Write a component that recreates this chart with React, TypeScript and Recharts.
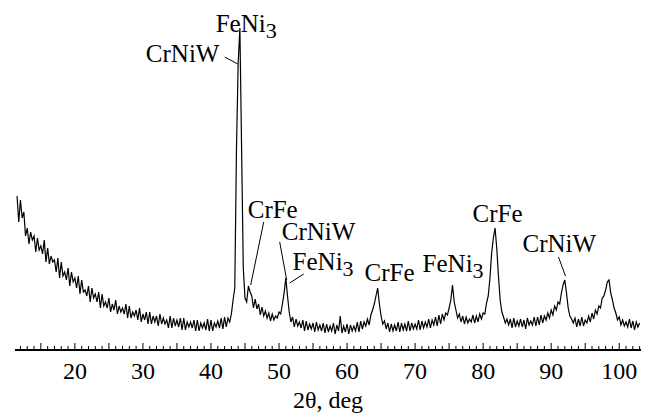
import React from 'react';
import { LineChart, Line, XAxis, YAxis, ReferenceDot, ReferenceLine } from 'recharts';

const FONT = "'Liberation Serif', 'Times New Roman', Times, 'Nimbus Roman', 'FreeSerif', 'Noto Serif', 'DejaVu Serif', serif";

// scan start and step, deg
const START = 11.5;
const STEP = 0.25;

// intensity, arb. units, every 0.25 deg
const intensity = [
  152, 126,
  148, 130, 136, 112, // 12
  120, 104, 116, 108, // 13
  112, 96, 110, 98, // 14
  102, 94, 108, 86, // 15
  100, 84, 92, 86, // 16
  88, 76, 90, 70, // 17
  86, 72, 76, 68, // 18
  80, 62, 76, 66, // 19
  70, 60, 72, 54, // 20
  68, 56, 58, 52, // 21
  62, 46, 60, 50, // 22
  54, 46, 56, 40, // 23
  54, 42, 46, 40, // 24
  50, 36, 44, 38, // 25
  48, 34, 42, 36, // 26
  40, 34, 44, 30, // 27
  42, 30, 36, 32, // 28
  38, 28, 40, 26, // 29
  34, 28, 36, 24, // 30
  36, 24, 32, 26, // 31
  32, 22, 34, 24, // 32
  30, 24, 28, 20, // 33
  32, 20, 30, 22, // 34
  28, 21, 30, 18, // 35
  30, 18, 26, 21, // 36
  26, 20, 28, 17, // 37
  28, 17, 25, 20, // 38
  25, 18, 29, 17, // 39
  28, 17, 25, 21, // 40
  27, 20, 30, 19, // 41
  31, 21, 30, 26, // 42
  34, 48, 60, 200, // 43
  285, 320, 200, 80, // 44
  50, 46, 62, 56, // 45
  52, 40, 49, 39, // 46
  44, 33, 41, 32, // 47
  37, 30, 35, 27, // 48
  34, 28, 32, 30, // 49
  36, 34, 44, 55, // 50
  70, 52, 36, 26, // 51
  31, 21, 29, 22, // 52
  26, 20, 28, 17, // 53
  27, 18, 24, 19, // 54
  25, 16, 26, 18, // 55
  23, 17, 25, 15, // 56
  24, 16, 22, 17, // 57
  25, 14, 23, 17, // 58
  32, 15, 22, 16, // 59
  24, 14, 23, 17, // 60
  22, 17, 26, 16, // 61
  27, 19, 26, 22, // 62
  29, 23, 33, 38, // 63
  44, 52, 60, 44, // 64
  32, 24, 27, 19, // 65
  25, 16, 24, 17, // 66
  23, 17, 26, 16, // 67
  25, 18, 24, 17, // 68
  27, 17, 25, 19, // 69
  24, 19, 28, 18, // 70
  27, 20, 26, 21, // 71
  29, 20, 28, 23, // 72
  31, 22, 33, 24, // 73
  34, 28, 35, 33, // 74
  40, 48, 63, 46, // 75
  38, 30, 34, 26, // 76
  32, 24, 31, 25, // 77
  29, 26, 33, 25, // 78
  32, 26, 34, 29, // 79
  35, 34, 45, 52, // 80
  70, 95, 110, 120, // 81
  100, 72, 48, 36, // 82
  31, 25, 29, 23, // 83
  29, 20, 30, 21, // 84
  27, 22, 29, 21, // 85
  28, 19, 30, 23, // 86
  27, 23, 31, 22, // 87
  31, 23, 33, 25, // 88
  32, 28, 35, 30, // 89
  38, 33, 42, 38, // 90
  46, 44, 55, 63, // 91
  68, 55, 40, 32, // 92
  29, 25, 30, 21, // 93
  29, 22, 31, 22, // 94
  28, 25, 32, 26, // 95
  35, 29, 38, 34, // 96
  42, 40, 50, 52, // 97
  58, 66, 68, 55, // 98
  48, 40, 35, 28, // 99
  31, 23, 28, 22, // 100
  26, 21, 29, 20, // 101
  27, 18, 26, 21, // 102
  25,
];

const labelledTicks = [20, 30, 40, 50, 60, 70, 80, 90, 100];
const allTicks = Array.from({ length: 92 }, (_, i) => 12 + i);

// phase labels: text, subscript, anchor (deg, intensity)
const phaseLabels = [
  { text: 'FeNi', sub: '3', t: 40.7, v: 316 },
  { text: 'CrNiW', sub: '', t: 30.43, v: 286 },
  { text: 'CrFe', sub: '', t: 45.4, v: 130 },
  { text: 'CrNiW', sub: '', t: 50.4, v: 108 },
  { text: 'FeNi', sub: '3', t: 52.0, v: 78 },
  { text: 'CrFe', sub: '', t: 62.58, v: 67 },
  { text: 'FeNi', sub: '3', t: 71.1, v: 76 },
  { text: 'CrFe', sub: '', t: 78.44, v: 126 },
  { text: 'CrNiW', sub: '', t: 85.79, v: 96 },
];

// leader lines: [from, to] in (deg, intensity)
const leaders = [
  [[42.03, 291], [43.94, 284]],
  [[47.75, 126], [45.84, 63]],
  [[50.1, 106], [51.13, 68]],
  [[51.57, 65], [53.63, 74]],
  [[91.07, 91], [92.1, 72]],
];

const data = intensity.map((v, i) => ({ t: START + i * STEP, v }));

const AxisTick = (props: any) => {
  const { x, y, payload } = props;
  const val = payload.value;
  const len = val % 5 === 0 ? 7 : 4;
  return (
    <g>
      <line x1={x} x2={x} y1={y} y2={y - len} stroke="#000" strokeWidth={1} />
      {labelledTicks.includes(val) && (
        <text x={x} y={y + 29} textAnchor="middle" fontFamily={FONT} fontSize={24} fill="#000">
          {val}
        </text>
      )}
    </g>
  );
};

const App = () => {
  return (
    <div style={{ position: 'absolute', left: 0, top: 0, background: '#fff', fontFamily: FONT }}>
      <LineChart width={649} height={414} data={data} margin={{ top: 0, right: 8, bottom: 0, left: 15 }}>
        <XAxis
          dataKey="t"
          type="number"
          domain={[11.2, 103.2]}
          allowDataOverflow
          ticks={allTicks}
          interval={0}
          tick={<AxisTick />}
          tickLine={false}
          tickSize={0}
          tickMargin={0}
          height={64}
          axisLine={{ stroke: '#000', strokeWidth: 2 }}
          label={{ value: '2θ, deg', position: 'insideBottom', offset: 6, fill: '#000', fontFamily: FONT, fontSize: 24 }}
        />
        <YAxis hide type="number" domain={[-2, 348]} allowDataOverflow />
        <Line type="linear" dataKey="v" stroke="#000" strokeWidth={1.2} dot={false} isAnimationActive={false} />
        {leaders.map((s, i) => (
          <ReferenceLine
            key={`ld-${i}`}
            segment={[{ x: s[0][0], y: s[0][1] }, { x: s[1][0], y: s[1][1] }]}
            stroke="#000"
            strokeWidth={1}
          />
        ))}
        {phaseLabels.map((a, i) => (
          <ReferenceDot
            key={`lb-${i}`}
            x={a.t}
            y={a.v}
            r={0}
            shape={(p: any) => (
              <text x={p.cx} y={p.cy} fontFamily={FONT} fontSize={25} fill="#000">
                {a.text}
                {a.sub && (
                  <tspan dy={6} fontSize={22}>
                    {a.sub}
                  </tspan>
                )}
              </text>
            )}
          />
        ))}
      </LineChart>
    </div>
  );
};

export default App;
